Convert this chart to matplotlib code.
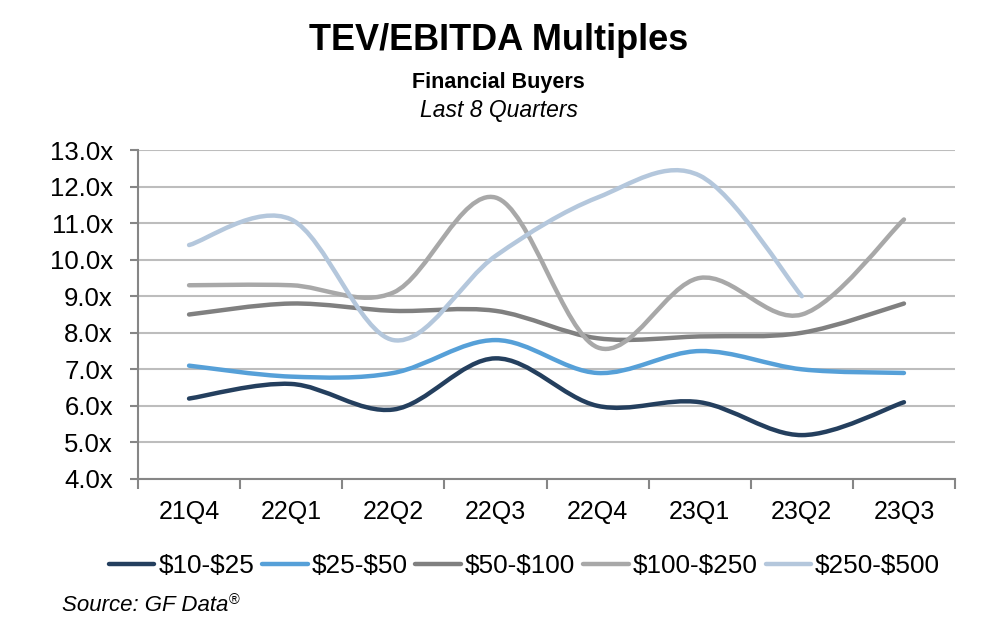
import numpy as np
import matplotlib.pyplot as plt
from matplotlib.path import Path
from matplotlib.patches import PathPatch
from matplotlib.lines import Line2D

plt.rcParams["font.family"] = ["Liberation Sans", "DejaVu Sans"]

quarters = ["21Q4", "22Q1", "22Q2", "22Q3", "22Q4", "23Q1", "23Q2", "23Q3"]
series_names = [r"\$10-\$25", r"\$25-\$50", r"\$50-\$100", r"\$100-\$250", r"\$250-\$500"]
tev_10_25 = [6.2, 6.6, 5.9, 7.3, 6.0, 6.1, 5.2, 6.1]
tev_25_50 = [7.1, 6.8, 6.9, 7.8, 6.9, 7.5, 7.0, 6.9]
tev_50_100 = [8.5, 8.8, 8.6, 8.6, 7.85, 7.9, 8.0, 8.8]
tev_100_250 = [9.3, 9.3, 9.1, 11.7, 7.6, 9.5, 8.5, 11.1]
tev_250_500 = [10.4, 11.1, 7.8, 10.1, 11.7, 12.3, 9.0]  # no 23Q3 value
colors = ["#243f5e", "#56a0d8", "#808080", "#a8a8a8", "#b4c7dc"]


def smooth_path(xs, ys):
    # excel style smoothed line: cubic bezier through every point
    pts = np.column_stack([xs, ys]).astype(float)
    n = len(pts)
    verts = [pts[0]]
    codes = [Path.MOVETO]
    for i in range(n - 1):
        p0 = pts[max(i - 1, 0)]
        p1 = pts[i]
        p2 = pts[i + 1]
        p3 = pts[min(i + 2, n - 1)]
        c1 = p1 + (p2 - p0) / 6.0
        c2 = p2 - (p3 - p1) / 6.0
        verts += [c1, c2, p2]
        codes += [Path.CURVE4] * 3
    return Path(verts, codes)


fig = plt.figure(figsize=(9.97, 6.43), dpi=100)
ax = fig.add_axes([0.1384, 0.2551, 0.8195, 0.5116])

all_series = [tev_10_25, tev_25_50, tev_50_100, tev_100_250, tev_250_500]
handles = []
for vals, col, name in zip(all_series, colors, series_names):
    xs = np.arange(len(vals))
    patch = PathPatch(smooth_path(xs, vals), fill=False, edgecolor=col,
                      lw=3.2, capstyle="round", joinstyle="round", zorder=3)
    ax.add_patch(patch)
    handles.append(Line2D([0], [0], color=col, lw=3.2, solid_capstyle="round", label=name))

ax.set_xlim(-0.5, len(quarters) - 0.5)
ax.set_ylim(4.0, 13.0)

# y axis
ax.set_yticks(np.arange(4.0, 13.01, 1.0))
ax.set_yticklabels([f"{v:.1f}x" for v in np.arange(4.0, 13.01, 1.0)])
ax.yaxis.grid(True, color="#bdbdbd", lw=1.5)
ax.set_axisbelow(True)

# x axis: ticks between categories, labels at centres
ax.set_xticks(np.arange(-0.5, len(quarters), 1.0))
ax.set_xticklabels([])
ax.set_xticks(np.arange(len(quarters)), minor=True)
ax.set_xticklabels(quarters, minor=True)
ax.tick_params(axis="x", which="major", direction="out", length=7, width=1.5, color="#868686")
ax.tick_params(axis="x", which="minor", length=0, pad=15, labelsize=18)
ax.tick_params(axis="y", direction="out", length=6, width=1.5, color="#868686", pad=12, labelsize=18.5)

for side in ["top", "right"]:
    ax.spines[side].set_visible(False)
for side in ["left", "bottom"]:
    ax.spines[side].set_color("#868686")
    ax.spines[side].set_linewidth(1.5)

# titles
fig.text(0.5, 0.9222, "TEV/EBITDA Multiples", ha="center", va="baseline",
         fontsize=26, fontweight="bold")
fig.text(0.5, 0.863, "Financial Buyers", ha="center", va="baseline",
         fontsize=15.5, fontweight="bold")
fig.text(0.5, 0.818, "Last 8 Quarters", ha="center", va="baseline",
         fontsize=16.5, style="italic")

fig.legend(handles=handles, loc="center", bbox_to_anchor=(0.526, 0.12), ncol=5,
           frameon=False, fontsize=18.8, handlelength=1.75, handletextpad=0.15,
           columnspacing=0.3)

src = fig.text(0.062, 0.059, "Source: GF Data", ha="left", va="center",
               fontsize=16, style="italic")
ax.annotate("®", xy=(1, 1), xycoords=src, xytext=(0.5, 1), textcoords="offset points",
            ha="left", va="top", fontsize=10.5, annotation_clip=False)

fig.savefig("out.png", dpi=100)
